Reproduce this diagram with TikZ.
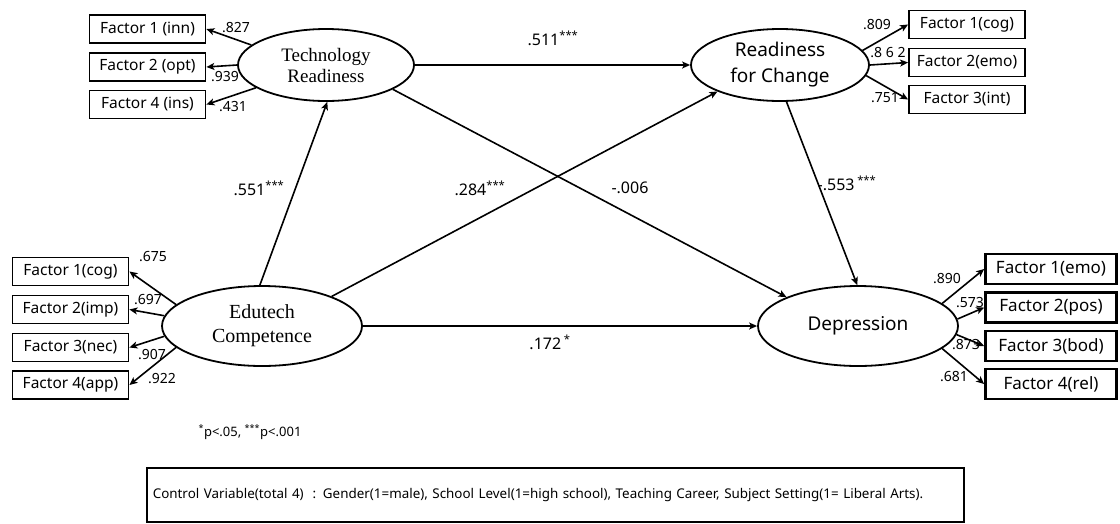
\documentclass[tikz,border=0pt]{standalone}
\usepackage{fontspec}
\setmainfont{Noto Sans}
\newfontfamily\latentserif{Liberation Serif}
\usetikzlibrary{shapes.geometric}
\usetikzlibrary{arrows.meta}

\begin{document}
\begin{tikzpicture}[x=1pt, y=-1pt,
    factor/.style={draw, line width=1.8pt, minimum width=116pt, minimum height=28pt, inner sep=0pt, font=\fontsize{15.5}{18}\selectfont},
    bigfactor/.style={factor, line width=2.6pt, minimum width=131pt, minimum height=30pt, font=\fontsize{17}{20}\selectfont},
    latent/.style={draw, ellipse, line width=1.8pt, inner sep=0pt, align=center},
    load/.style={font=\fontsize{14}{16}\selectfont, inner sep=0pt},
    coef/.style={font=\fontsize{16}{18}\selectfont, inner sep=0pt},
    link/.style={line width=1.6pt, -{Stealth[length=8pt, width=7pt, inset=2pt]}}]
        \useasboundingbox (0,0) rectangle (1120,523);

        % Technology readiness
        \node[latent, minimum width=176pt, minimum height=72pt, font=\latentserif\fontsize{19}{21}\selectfont] (tr) at (326,65) {Technology\\Readiness};
        \node[factor] (inn) at (147.5,29) {Factor 1 (inn)};
        \node[factor] (opt) at (147.5,67) {Factor 2 (opt)};
        \node[factor] (ins) at (147.5,104.5) {Factor 4 (ins)};
        \draw[link] (tr.165) -- (inn.east);
        \draw[link] (tr.180) -- (opt.east);
        \draw[link] (tr.198) -- (ins.east);
        \node[load] (l827) at (236,28) {.827};
        \node[load] (l939) at (225,77) {.939};
        \node[load] (l431) at (233,107) {.431};

        % Readiness for change
        \node[latent, minimum width=178pt, minimum height=72pt, font=\fontsize{19}{26}\selectfont] (rc) at (780,65) {Readiness\\for Change};
        \node[factor] (cog) at (967,24.5) {Factor 1(cog)};
        \node[factor] (emo) at (967,62.5) {Factor 2(emo)};
        \node[factor] (int) at (967,99.5) {Factor 3(int)};
        \draw[link] (rc.10) -- (cog.west);
        \draw[link] (rc.0) -- (emo.west);
        \draw[link] (rc.353) -- (int.west);
        \node[load] (l809) at (877,25) {.809};
        \node[load] (l862) at (888,53) {.8 6 2};
        \node[load] (l751) at (885,98) {.751};

        % Edutech competence
        \node[latent, minimum width=200pt, minimum height=80pt, font=\latentserif\fontsize{20}{24}\selectfont] (ec) at (262,326) {Edutech\\Competence};
        \node[factor] (ecog) at (70.5,271.5) {Factor 1(cog)};
        \node[factor] (imp) at (70.5,309.5) {Factor 2(imp)};
        \node[factor] (nec) at (70.5,347.5) {Factor 3(nec)};
        \node[factor] (app) at (70.5,385) {Factor 4(app)};
        \draw[link] (ec.166) -- (ecog.east);
        \draw[link] (ec.174) -- (imp.east);
        \draw[link] (ec.186) -- (nec.east);
        \draw[link] (ec.194) -- (app.east);
        \node[load] (l675) at (153,257) {.675};
        \node[load] (l697) at (148,300) {.697};
        \node[load] (l907) at (152,355) {.907};
        \node[load] (l922) at (162,379) {.922};

        % Depression
        \node[latent, minimum width=200pt, minimum height=80pt, font=\fontsize{19}{22}\selectfont] (dp) at (858,326) {Depression};
        \node[bigfactor] (demo) at (1051,269) {Factor 1(emo)};
        \node[bigfactor] (pos) at (1051,307.5) {Factor 2(pos)};
        \node[bigfactor] (bod) at (1051,346) {Factor 3(bod)};
        \node[bigfactor] (rel) at (1051,384) {Factor 4(rel)};
        \draw[link] (dp.15) -- (demo.west);
        \draw[link] (dp.4) -- (pos.west);
        \draw[link] (dp.355) -- (bod.west);
        \draw[link] (dp.345) -- (rel.west);
        \node[load] (l890) at (947,279) {.890};
        \node[load] (l573) at (970,303) {.573};
        \node[load] (l873) at (966,345) {.873};
        \node[load] (l681) at (954,377) {.681};

        % Structural paths
        \draw[link] (tr.east) -- (rc.west);
        \draw[link] (ec.93) -- (tr.272);
        \draw[link] (ec.23) -- (rc.203);
        \draw[link] (tr.340) -- (dp.158);
        \draw[link] (rc.280) -- (dp.91);
        \draw[link] (ec.east) -- (dp.west);
        \node[coef] (c511) at (553,38) {.511\textsuperscript{***}};
        \node[coef] (c551) at (259,188) {.551\textsuperscript{***}};
        \node[coef] (c284) at (480,188) {.284\textsuperscript{***}};
        \node[coef] (c006) at (630,188) {-.006};
        \node[coef] (c553) at (847,183) {-.553\,\textsuperscript{***}};
        \node[coef] (c172) at (550,342) {.172\,\textsuperscript{*}};

        % Notes
        \node[font=\fontsize{13}{15}\selectfont, inner sep=0pt] (sig) at (250,432) {\textsuperscript{*}p<.05, \textsuperscript{***}p<.001};
        \node[draw, line width=1.6pt, anchor=north west, text width=805pt, align=left, inner xsep=6pt, minimum height=54pt, font=\fontsize{13.4}{16}\selectfont] (ctrl) at (146,467) {Control Variable(total 4) \ : Gender(1=male), School Level(1=high school), Teaching Career, Subject Setting(1= Liberal Arts).};
    \end{tikzpicture}
\end{document}
